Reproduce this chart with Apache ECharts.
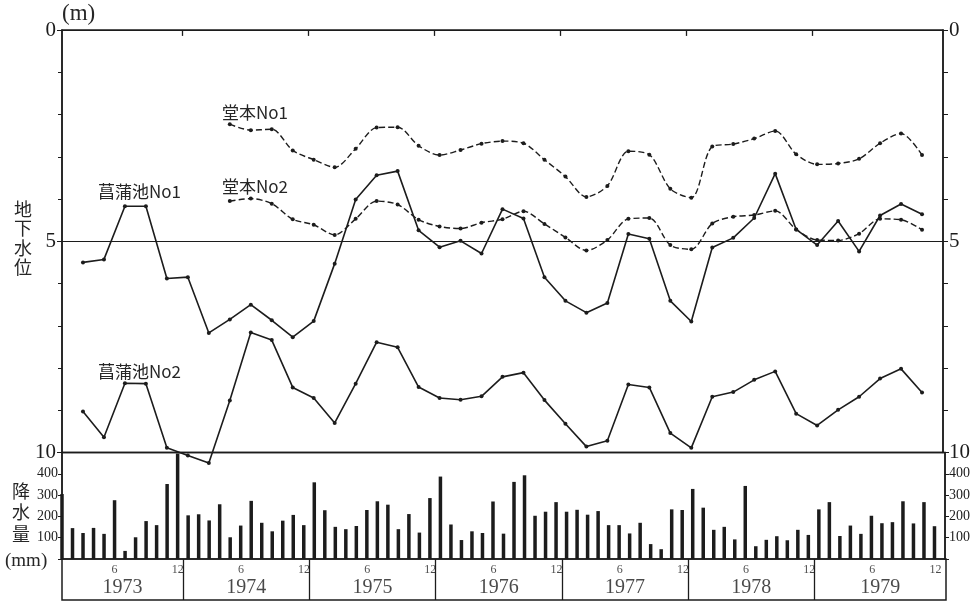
<!DOCTYPE html>
<html>
<head>
<meta charset="utf-8">
<script src="https://cdn.jsdelivr.net/npm/echarts@6/dist/echarts.min.js"></script>
<style>
html, body { margin: 0; padding: 0; background: #fff; }
#chart { width: 973px; height: 603px; }
</style>
</head>
<body>
<div id="chart"></div>
<script>
// 月番号 0 = 1973年1月 ... 83 = 1979年12月
const years = ['1973', '1974', '1975', '1976', '1977', '1978', '1979'];

// 月降水量 (mm)
const rainfall = [
  305, 145, 122, 146, 118, 276, 38, 102, 178, 159, 352, 495,
  205, 210, 181, 257, 102, 157, 273, 170, 130, 180, 207, 159,
  360, 229, 151, 140, 155, 230, 271, 255, 140, 211, 124, 286,
  387, 162, 89, 130, 122, 270, 119, 362, 393, 203, 222, 267,
  222, 231, 208, 225, 159, 159, 120, 170, 70, 46, 233, 230,
  329, 241, 137, 151, 92, 343, 60, 90, 107, 88, 137, 113,
  233, 267, 108, 157, 118, 203, 168, 173, 271, 167, 267, 154
];

// 地下水位 (m) 2か月ごとの観測
const shoubuMonths = [2, 4, 6, 8, 10, 12, 14, 16, 18, 20, 22, 24, 26, 28, 30, 32, 34, 36, 38, 40,
  42, 44, 46, 48, 50, 52, 54, 56, 58, 60, 62, 64, 66, 68, 70, 72, 74, 76, 78, 80, 82];
const doumotoMonths = [16, 18, 20, 22, 24, 26, 28, 30, 32, 34, 36, 38, 40, 42, 44, 46, 48,
  50, 52, 54, 56, 58, 60, 62, 64, 66, 68, 70, 72, 74, 76, 78, 80, 82];

const shoubu1 = [5.50, 5.43, 4.17, 4.17, 5.88, 5.85, 7.17, 6.85, 6.50, 6.87, 7.27, 6.89, 5.53, 4.01,
  3.44, 3.34, 4.74, 5.14, 4.99, 5.29, 4.24, 4.46, 5.85, 6.41, 6.69, 6.46, 4.83, 4.94,
  6.41, 6.90, 5.15, 4.92, 4.45, 3.40, 4.72, 5.09, 4.52, 5.24, 4.39, 4.12, 4.36];
const shoubu2 = [9.03, 9.64, 8.36, 8.37, 9.89, 10.07, 10.25, 8.77, 7.16, 7.34, 8.46, 8.71, 9.30, 8.37,
  7.39, 7.51, 8.45, 8.71, 8.75, 8.67, 8.21, 8.11, 8.76, 9.32, 9.86, 9.72, 8.39, 8.46,
  9.54, 9.89, 8.68, 8.57, 8.28, 8.08, 9.08, 9.36, 8.99, 8.68, 8.25, 8.02, 8.58];
const doumoto1 = [2.23, 2.37, 2.35, 2.85, 3.07, 3.25, 2.81,
  2.31, 2.30, 2.74, 2.96, 2.84, 2.69, 2.63, 2.68, 3.07, 3.47, 3.95, 3.69, 2.87, 2.95,
  3.76, 3.97, 2.76, 2.70, 2.57, 2.39, 2.94, 3.18, 3.16, 3.05, 2.68, 2.45, 2.96];
const doumoto2 = [4.05, 3.99, 4.11, 4.48, 4.61, 4.85, 4.47,
  4.05, 4.13, 4.49, 4.65, 4.70, 4.56, 4.48, 4.29, 4.59, 4.91, 5.22, 4.97, 4.47, 4.45,
  5.09, 5.19, 4.58, 4.42, 4.38, 4.28, 4.72, 4.97, 4.98, 4.82, 4.47, 4.49, 4.73];

const monthLabels = ['6', '12'];   // 表の中の月目盛
const monthLabelPos = [5, 11];

const ink = '#1c1c1c';
const serif = 'Liberation Serif';
const jp = 'Noto Sans CJK JP';

// 年の区切りと中央
const yearEdges = [0];
for (let k = 1; k < years.length; k++) yearEdges.push(k * 12 - 0.5);
yearEdges.push(84);

const pairs = (xs, ys) => xs.map((x, i) => [x, ys[i]]);

const yearLabelData = years.map((y, k) => [(yearEdges[k] + yearEdges[k + 1]) / 2, 0.3, y]);
const monthLabelData = [];
years.forEach((y, k) => {
  monthLabelPos.forEach((m, j) => monthLabelData.push([k * 12 + m, 0.74, monthLabels[j]]));
});

const dividerLines = yearEdges.slice(1, -1).map(x => [{ coord: [x, 0] }, { coord: [x, 1] }]);
const topTicks = yearEdges.slice(1, -1).map(x => [{ coord: [x, 0] }, { coord: [x, 0.14] }]);

const chart = echarts.init(document.getElementById('chart'));

const hiddenX = { type: 'value', min: 0, max: 84, show: false };

function lineSeries(name, data, dashed) {
  return {
    name: name,
    type: 'line',
    xAxisIndex: 0,
    yAxisIndex: 0,
    data: data,
    clip: false,
    smooth: dashed ? 0.3 : false,
    symbol: 'circle',
    symbolSize: 4,
    itemStyle: { color: ink },
    lineStyle: { color: ink, width: dashed ? 1.4 : 1.6, type: dashed ? [6, 3] : 'solid' },
    silent: true
  };
}

function label(text, x, y, size, family, lh) {
  return {
    type: 'text', left: x, top: y, silent: true,
    style: { text: text, fontSize: size, fontFamily: family, lineHeight: lh || size * 1.2, fill: '#262626' }
  };
}

const option = {
  backgroundColor: '#fff',
  animation: false,
  grid: [
    { left: 62, width: 884, top: 30, height: 422.5, show: true, borderColor: ink, borderWidth: 1.5 },
    { left: 62, width: 884, top: 452.5, height: 106.5, show: true, borderColor: ink, borderWidth: 1.5 },
    { left: 62, width: 884, top: 559, height: 41, show: true, borderColor: ink, borderWidth: 1.5 }
  ],
  xAxis: [
    Object.assign({ gridIndex: 0 }, hiddenX),
    Object.assign({ gridIndex: 1 }, hiddenX),
    Object.assign({ gridIndex: 2 }, hiddenX)
  ],
  yAxis: [
    {
      gridIndex: 0, type: 'value', inverse: true, min: 0, max: 10, interval: 5,
      axisLine: { show: true, lineStyle: { color: ink, width: 1.5 } },
      axisTick: { show: true, length: 5, lineStyle: { color: ink } },
      minorTick: { show: true, splitNumber: 5, length: 4, lineStyle: { color: ink } },
      splitLine: { show: true, lineStyle: { color: ink, width: 1.2 } },
      axisLabel: { color: ink, fontFamily: serif, fontSize: 21, margin: 6 }
    },
    {
      gridIndex: 0, type: 'value', inverse: true, min: 0, max: 10, interval: 5, position: 'right',
      axisLine: { show: true, lineStyle: { color: ink, width: 1.5 } },
      axisTick: { show: true, length: 5, lineStyle: { color: ink } },
      minorTick: { show: true, splitNumber: 5, length: 5, lineStyle: { color: ink } },
      splitLine: { show: false },
      axisLabel: { color: ink, fontFamily: serif, fontSize: 21, margin: 6 }
    },
    {
      gridIndex: 1, type: 'value', min: 0, max: 500, interval: 100,
      axisLine: { show: true, lineStyle: { color: ink, width: 1.5 } },
      axisTick: { show: true, length: 4, lineStyle: { color: ink } },
      splitLine: { show: false },
      axisLabel: {
        color: ink, fontFamily: serif, fontSize: 14, margin: 4,
        formatter: v => (v > 0 && v < 500 ? String(v) : '')
      }
    },
    {
      gridIndex: 1, type: 'value', min: 0, max: 500, interval: 100, position: 'right',
      axisLine: { show: true, lineStyle: { color: ink, width: 1.5 } },
      axisTick: { show: true, length: 4, lineStyle: { color: ink } },
      splitLine: { show: false },
      axisLabel: {
        color: ink, fontFamily: serif, fontSize: 14, margin: 4,
        formatter: v => (v > 0 && v < 500 ? String(v) : '')
      }
    },
    { gridIndex: 2, type: 'value', min: 0, max: 1, show: false }
  ],
  graphic: [
    label('(m)', 62, 0, 23, serif),
    label('地\n下\n水\n位', 14, 199, 18, jp, 19.5),
    label('降\n水\n量', 12, 480, 18, jp, 21.5),
    label('(mm)', 5, 550, 19, serif),
    label('堂本No1', 222, 102, 17, jp),
    label('堂本No2', 222, 176, 17, jp),
    label('菖蒲池No1', 98, 181, 17, jp),
    label('菖蒲池No2', 98, 361, 17, jp)
  ],
  series: [
    lineSeries('堂本No1', pairs(doumotoMonths, doumoto1), true),
    lineSeries('堂本No2', pairs(doumotoMonths, doumoto2), true),
    lineSeries('菖蒲池No1', pairs(shoubuMonths, shoubu1), false),
    lineSeries('菖蒲池No2', pairs(shoubuMonths, shoubu2), false),
    {
      // 上枠の年区切り目盛
      type: 'line', xAxisIndex: 0, yAxisIndex: 0, data: [], silent: true,
      markLine: {
        symbol: 'none', silent: true, label: { show: false },
        lineStyle: { color: ink, width: 1.3, type: 'solid' },
        data: topTicks
      }
    },
    {
      name: '降水量',
      type: 'bar',
      xAxisIndex: 1,
      yAxisIndex: 2,
      data: rainfall.map((v, i) => [i, v]),
      barWidth: 3.5,
      itemStyle: { color: ink },
      silent: true
    },
    {
      type: 'scatter', xAxisIndex: 2, yAxisIndex: 4, symbolSize: 0, silent: true,
      data: yearLabelData,
      label: {
        show: true, position: 'inside', formatter: p => p.data[2],
        color: ink, fontFamily: serif, fontSize: 20
      },
      markLine: {
        symbol: 'none', silent: true, label: { show: false },
        lineStyle: { color: ink, width: 1.3, type: 'solid' },
        data: dividerLines
      }
    },
    {
      type: 'scatter', xAxisIndex: 2, yAxisIndex: 4, symbolSize: 0, silent: true,
      data: monthLabelData,
      label: {
        show: true, position: 'inside', formatter: p => p.data[2],
        color: ink, fontFamily: serif, fontSize: 12
      }
    }
  ]
};

chart.setOption(option);
</script>
</body>
</html>
